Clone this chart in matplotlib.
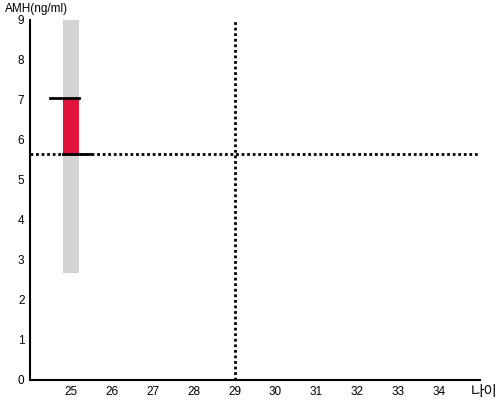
import matplotlib
matplotlib.use('Agg')
import matplotlib.pyplot as plt

plt.rcParams['font.family'] = ['Liberation Sans', 'Noto Sans CJK KR', 'DejaVu Sans']

# 데이터
age = 25
amh_low = 5.65
amh_high = 7.05
range_low = 2.67
range_high = 9.0
ref_age = 29
ref_amh = 5.65

x_ticks = [25, 26, 27, 28, 29, 30, 31, 32, 33, 34]
y_ticks = [0, 1, 2, 3, 4, 5, 6, 7, 8, 9]

fig = plt.figure(figsize=(5, 4), dpi=100)
ax = fig.add_axes([0.06, 0.05, 0.90, 0.90])

# 회색 범위
ax.bar(age, range_high - range_low, bottom=range_low, width=0.4,
       color='#d3d3d3', zorder=1)
# 빨간 막대
ax.bar(age, amh_high - amh_low, bottom=amh_low, width=0.4,
       color='#e0143c', zorder=2)
# 위/아래 가로선
ax.plot([age - 0.5, age + 0.2], [amh_high, amh_high], color='black', lw=2, zorder=3)
ax.plot([age - 0.2, age + 0.5], [amh_low, amh_low], color='black', lw=2, zorder=3)

# 기준 점선
ax.axhline(ref_amh, color='black', ls=(0, (1, 1)), lw=2, zorder=2.5)
ax.axvline(ref_age, color='black', ls=(0, (1, 1)), lw=2, zorder=2.5)

ax.set_xlim(24, 35)
ax.set_ylim(0, 9)
ax.set_xticks(x_ticks)
ax.set_yticks(y_ticks)
ax.tick_params(length=0, labelsize=8.5, pad=4)
for s in ['top', 'right']:
    ax.spines[s].set_visible(False)
ax.spines['left'].set_linewidth(1.5)
ax.spines['bottom'].set_linewidth(1.5)

fig.text(0.01, 0.992, 'AMH(ng/ml)', fontsize=8.5, va='top', ha='left')
fig.text(0.994, 0.003, '나이', fontsize=10.5, va='bottom', ha='right',
         family=['Noto Sans CJK KR', 'DejaVu Sans'])

fig.savefig('out.png', dpi=100)
